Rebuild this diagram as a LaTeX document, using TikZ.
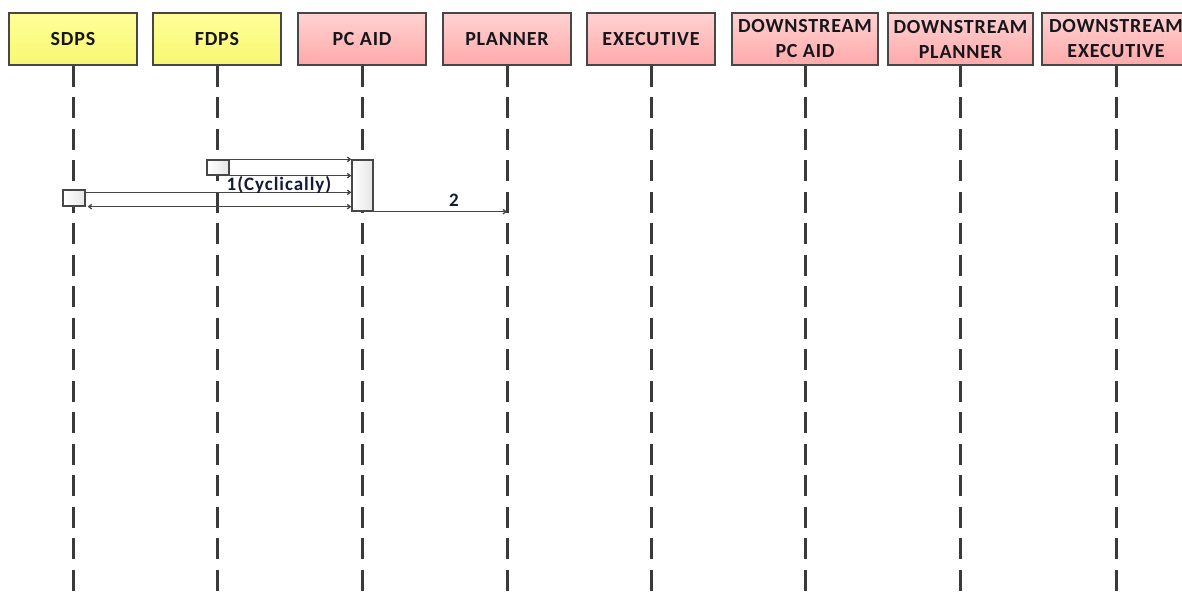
\documentclass[tikz,border=0pt]{standalone}
\usepackage{fontspec}
\setmainfont{Carlito}
\usetikzlibrary{arrows.meta}
\definecolor{edgec}{HTML}{474747}
\definecolor{lifec}{HTML}{3A3A3A}
\definecolor{msgc}{HTML}{454545}
\definecolor{txtc}{HTML}{16161C}
\definecolor{lbl}{HTML}{141A3A}
\definecolor{yelT}{HTML}{FFFF99}
\definecolor{yelB}{HTML}{F7F772}
\definecolor{pinkT}{HTML}{FFD2D2}
\definecolor{pinkB}{HTML}{FFA9A9}
\newcommand\hdrfont{\fontsize{20}{25}\selectfont\bfseries\addfontfeature{LetterSpace=4}}
\newcommand\msgfont{\fontsize{19}{20}\selectfont\bfseries\addfontfeature{LetterSpace=5}}
\begin{document}
\begin{tikzpicture}[x=1pt,y=-1pt,
  hdr/.style={draw=edgec,line width=1.6pt,minimum height=52pt,inner sep=0pt,align=center,font=\hdrfont,text=txtc},
  yel/.style={hdr,top color=yelT,bottom color=yelB,minimum width=128pt},
  pinkbox/.style={hdr,top color=pinkT,bottom color=pinkB,minimum width=#1},
  pinkbox/.default=128pt,
  life/.style={draw=lifec,line width=3pt,dash pattern=on 21pt off 10.5pt},
  act/.style={draw=edgec,line width=1.3pt,left color=white,right color=black!10,inner sep=0pt},
  msg/.style={draw=msgc,line width=1.3pt},
  tipR/.style={-{Straight Barb[length=3pt,width=4.5pt]}},
  tipLR/.style={{Straight Barb[length=3pt,width=4.5pt]}-{Straight Barb[length=3pt,width=4.5pt]}}
]
\useasboundingbox (0,0) rectangle (1182,598);
\clip (0,0) rectangle (1182,598);
\fill[white] (0,0) rectangle (1182,598);
\coordinate (bot) at (0,600);
% headers
\node[yel] (sdps) at (73,39) {SDPS};
\node[yel] (fdps) at (217,39) {FDPS};
\node[pinkbox] (pcaid) at (362,39) {PC AID};
\node[pinkbox] (planner) at (507,39) {PLANNER};
\node[pinkbox] (exec) at (651,39) {EXECUTIVE};
\node[pinkbox=146pt] (dspc) at (805,39) {DOWNSTREAM\\PC AID};
\node[pinkbox=145pt] (dspl) at (960.5,39) {DOWNSTREAM\\PLANNER};
\node[pinkbox=148pt] (dsex) at (1116,39) {DOWNSTREAM\\EXECUTIVE};
% lifelines
\foreach \n in {sdps,fdps,pcaid,planner,exec,dspc,dspl,dsex}
  \draw[life] (\n.south) -- (\n.south |- bot);
% activations
\node[act,minimum width=22pt,minimum height=15pt] (fdpsact) at (218,167.5) {};
\node[act,minimum width=21pt,minimum height=51pt] (pcact) at (362.5,185.5) {};
\node[act,minimum width=22pt,minimum height=16pt] (sdpsact) at (74,198) {};
% messages
\draw[msg,tipR] (fdpsact.north east) -- (fdpsact.north east -| pcact.west);
\draw[msg,tipR] (fdpsact.south east) -- (fdpsact.south east -| pcact.west);
\draw[msg,tipR] ([yshift=-3pt]sdpsact.north east) -- ([yshift=-3pt]sdpsact.north east -| pcact.west);
\draw[msg,tipLR] ([xshift=2pt]sdpsact.south east) -- (sdpsact.south east -| pcact.west);
\draw[msg,tipR] (pcact.south east) -- (pcact.south east -| planner.south);
\node[font=\msgfont,text=lbl,inner sep=0pt] (l1) at (279,185) {1(Cyclically)};
\node[font=\msgfont,text=lbl,inner sep=0pt] (l2) at (454,200) {2};
\end{tikzpicture}
\end{document}
